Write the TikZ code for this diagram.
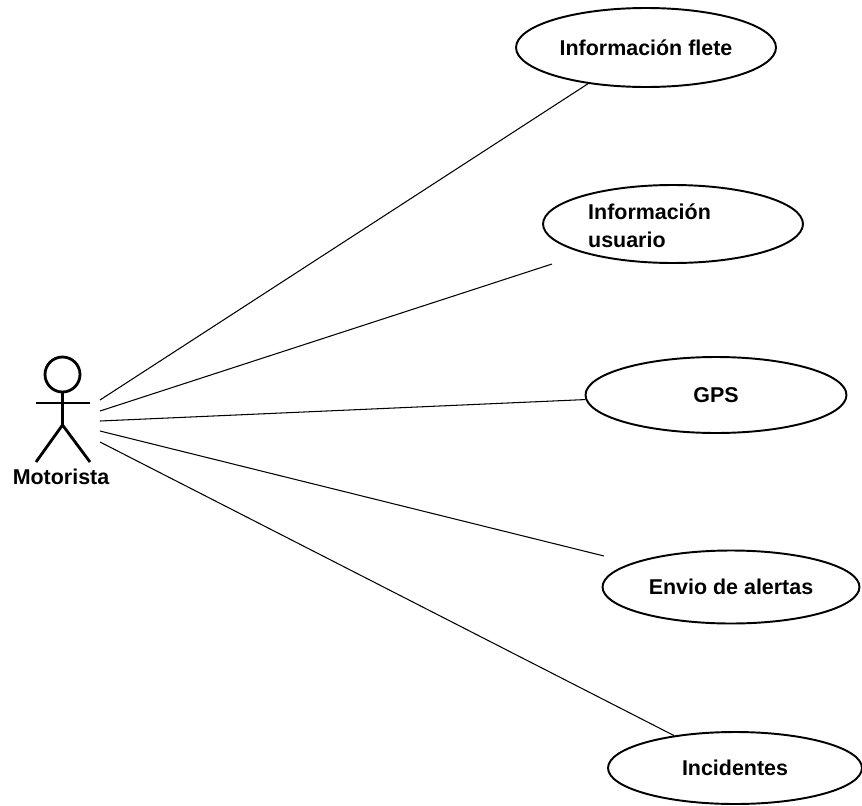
\documentclass[tikz,border=0pt]{standalone}
\usepackage{fontspec}
\setmainfont{Liberation Sans}
\usetikzlibrary{shapes.geometric}
\begin{document}
\begin{tikzpicture}[x=0.02cm, y=-0.02cm,
    usecase/.style={ellipse, draw=black, line width=1.1pt, inner sep=0pt,
        minimum width=5.2cm, minimum height=1.54cm},
    lbl/.style={font=\fontsize{12.2}{16}\selectfont\bfseries},
    assoc/.style={black, line width=0.6pt},
    stick/.style={black, line width=1.6pt}]

% --- canvas ---
\useasboundingbox (0,0) rectangle (862,805);

% --- actor ---
\draw[stick] (62.5,374.5) circle[radius=0.35cm];
\draw[stick] (62.5,392) -- (62.5,425);
\draw[stick] (36,403) -- (90,403);
\draw[stick] (36,462) -- (62.5,425) -- (90,462);
\node[lbl] (motorista) at (61,477) {Motorista};

% --- use cases ---
\node[usecase, lbl, minimum height=1.58cm] (flete) at (646,47.5) {Información flete};
\node[usecase, minimum height=1.56cm] (usuario) at (673,224) {};
\node[lbl, anchor=west, align=left] (usuariotxt) at (582,226) {Información\\usuario};
\node[usecase, lbl, minimum width=5.22cm, minimum height=1.52cm] (gps) at (716,395) {GPS};
\node[usecase, lbl, minimum width=5.14cm, minimum height=1.46cm] (alertas) at (731,587) {Envio de alertas};
\node[usecase, lbl, minimum width=5.08cm, minimum height=1.44cm] (incidentes) at (735,768) {Incidentes};

% --- associations ---
\coordinate (m1) at (100,400);
\coordinate (m2) at (100,411);
\coordinate (m3) at (100,421);
\coordinate (m4) at (100,431);
\coordinate (m5) at (100,442);

% lines to usuario and alertas stop short of the ellipse
\coordinate (u2) at (552,264);
\coordinate (u4) at (604,556);

\draw[assoc] (m1) -- (flete.212.3);
\draw[assoc] (m2) -- (u2);
\draw[assoc] (m3) -- (gps.182.6);
\draw[assoc] (m4) -- (u4);
\draw[assoc] (m5) -- (incidentes.152.8);

\end{tikzpicture}
\end{document}
